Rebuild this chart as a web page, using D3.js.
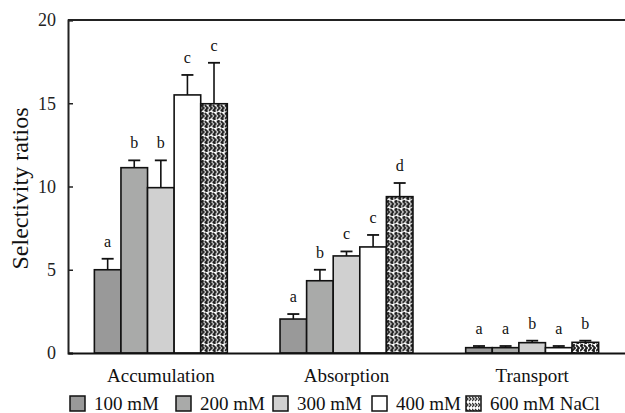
<!DOCTYPE html>
<html>
<head>
<meta charset="utf-8">
<script src="https://cdn.jsdelivr.net/npm/d3@7"></script>
<style>
  body { margin: 0; background: #fff; }
  svg { font-family: "Liberation Serif", "Times New Roman", serif; }
</style>
</head>
<body>
<svg width="625" height="413"></svg>
<script>
var groups = ["Accumulation", "Absorption", "Transport"];
var series = ["100 mM", "200 mM", "300 mM", "400 mM", "600 mM NaCl"];
var means = [
  [5.0, 11.13, 9.93, 15.5, 14.97],
  [2.04, 4.34, 5.83, 6.37, 9.39],
  [0.32, 0.32, 0.62, 0.32, 0.64]
];
var errs = [
  [0.66, 0.44, 1.64, 1.2, 2.46],
  [0.3, 0.66, 0.27, 0.72, 0.82],
  [0.1, 0.1, 0.12, 0.1, 0.1]
];
var letters = [
  ["a", "b", "b", "c", "c"],
  ["a", "b", "c", "c", "d"],
  ["a", "a", "b", "a", "b"]
];
var yTicks = [0, 5, 10, 15, 20];

var svg = d3.select("svg");
var m = { left: 68, right: 625, top: 20, bottom: 353 };

var defs = svg.append("defs");
var pat = defs.append("pattern")
  .attr("id", "weave")
  .attr("patternUnits", "userSpaceOnUse")
  .attr("width", 8).attr("height", 8);
pat.append("rect").attr("width", 8).attr("height", 8).attr("fill", "#fff");
pat.append("path")
  .attr("d", "M0,1 L3,4 L0,7 M4,1 L7,4 L4,7 M2,0 L2,2 M6,4 L6,8")
  .attr("stroke", "#1a1a1a").attr("stroke-width", 1.8).attr("fill", "none");

var fills = ["#999999", "#a9aaa9", "#d0d0d0", "#ffffff", "url(#weave)"];

var x0 = d3.scaleBand()
  .domain(groups)
  .range([m.left, m.right])
  .paddingInner(0.284)
  .paddingOuter(0.142);

var x1 = d3.scaleBand()
  .domain(series)
  .range([0, x0.bandwidth()]);

var y = d3.scaleLinear()
  .domain([0, 20])
  .range([m.bottom, m.top]);

var rows = [];
groups.forEach(function (g, gi) {
  series.forEach(function (s, si) {
    rows.push({ g: g, s: s, si: si, v: means[gi][si], e: errs[gi][si], l: letters[gi][si] });
  });
});

// top frame line
svg.append("line")
  .attr("x1", m.left).attr("x2", m.right)
  .attr("y1", m.top).attr("y2", m.top)
  .attr("stroke", "#222").attr("stroke-width", 2);

var bar = svg.append("g").selectAll("g")
  .data(rows)
  .enter().append("g")
  .attr("transform", function (d) { return "translate(" + (x0(d.g) + x1(d.s)) + ",0)"; });

bar.append("rect")
  .attr("x", 0)
  .attr("y", function (d) { return y(d.v); })
  .attr("width", x1.bandwidth())
  .attr("height", function (d) { return y(0) - y(d.v); })
  .attr("fill", function (d) { return fills[d.si]; })
  .attr("stroke", "#111")
  .attr("stroke-width", 1.6);

var cx = x1.bandwidth() / 2;
bar.append("line")
  .attr("x1", cx).attr("x2", cx)
  .attr("y1", function (d) { return y(d.v); })
  .attr("y2", function (d) { return y(d.v + d.e); })
  .attr("stroke", "#111").attr("stroke-width", 1.6);
bar.append("line")
  .attr("x1", cx - 6).attr("x2", cx + 6)
  .attr("y1", function (d) { return y(d.v + d.e); })
  .attr("y2", function (d) { return y(d.v + d.e); })
  .attr("stroke", "#111").attr("stroke-width", 1.8);

bar.append("text")
  .attr("x", cx)
  .attr("y", function (d) { return y(d.v + d.e) - 12; })
  .attr("text-anchor", "middle")
  .attr("font-size", 16)
  .attr("fill", "#111")
  .text(function (d) { return d.l; });

// y axis
var yAxis = svg.append("g")
  .attr("transform", "translate(" + m.left + ",0)")
  .call(d3.axisLeft(y).tickValues(yTicks).tickSize(-5).tickPadding(12));
yAxis.select(".domain").attr("stroke", "#222").attr("stroke-width", 2);
yAxis.selectAll(".tick line").attr("stroke", "#222").attr("stroke-width", 1.5);
yAxis.selectAll(".tick text")
  .attr("font-family", "Liberation Serif, serif")
  .attr("font-size", 18).attr("fill", "#222");

// x axis
var xAxis = svg.append("g")
  .attr("transform", "translate(0," + m.bottom + ")")
  .call(d3.axisBottom(x0).tickSize(0).tickPadding(16));
xAxis.select(".domain").attr("stroke", "#111").attr("stroke-width", 2.2);
xAxis.selectAll(".tick text")
  .attr("font-family", "Liberation Serif, serif")
  .attr("font-size", 19).attr("fill", "#111");

svg.append("text")
  .attr("transform", "translate(28," + ((m.top + m.bottom) / 2 + 2) + ") rotate(-90)")
  .attr("text-anchor", "middle")
  .attr("font-size", 24)
  .attr("fill", "#111")
  .text("Selectivity ratios");

// legend
var legX = [70, 176, 273, 372, 466];
var legPat = defs.append("pattern")
  .attr("id", "weaveLeg")
  .attr("patternUnits", "userSpaceOnUse")
  .attr("width", 6).attr("height", 6);
legPat.append("rect").attr("width", 6).attr("height", 6).attr("fill", "#fff");
legPat.append("path")
  .attr("d", "M0,1 L2,3 L0,5 M3,1 L5,3 L3,5")
  .attr("stroke", "#333").attr("stroke-width", 1.3).attr("fill", "none");

var leg = svg.append("g").selectAll("g")
  .data(series)
  .enter().append("g")
  .attr("transform", function (d, i) { return "translate(" + legX[i] + ",396)"; });
leg.append("rect")
  .attr("width", 15).attr("height", 15)
  .attr("fill", function (d, i) { return i === 4 ? "url(#weaveLeg)" : fills[i]; })
  .attr("stroke", "#111").attr("stroke-width", 1.5);
leg.append("text")
  .attr("x", 24).attr("y", 14)
  .attr("font-size", 19)
  .attr("fill", "#111")
  .text(function (d) { return d; });
</script>
</body>
</html>
